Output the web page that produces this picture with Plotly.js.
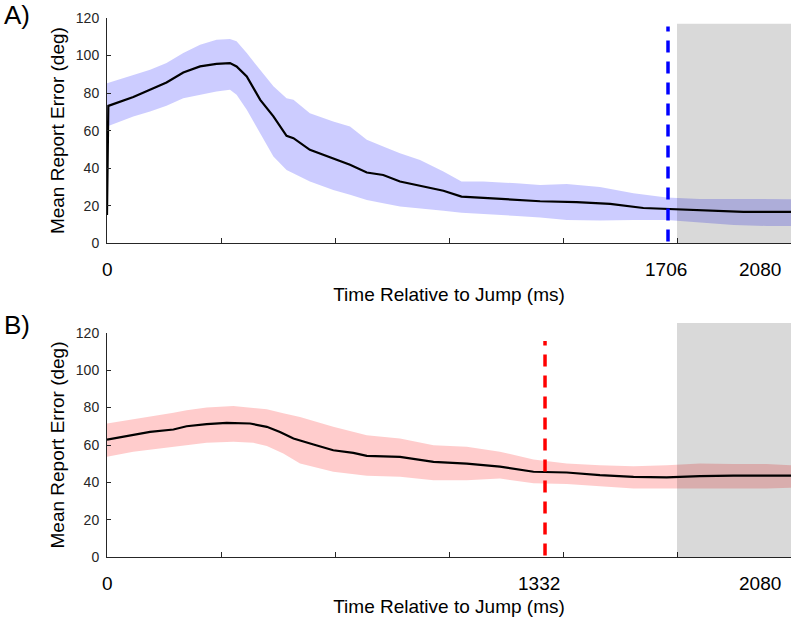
<!DOCTYPE html>
<html>
<head>
<meta charset="utf-8">
<script src="https://cdn.plot.ly/plotly-3.0.1.min.js"></script>
<style>html,body{margin:0;padding:0;background:#fff;}#chart{width:800px;height:622px;}</style>
</head>
<body>
<div id="chart"></div>
<script>
// ---- Panel A data ----
const tMeanA = [0, 4, 80, 131, 181, 232, 283, 333, 374, 394, 425, 466, 506, 546, 567, 617, 688, 739, 790, 840, 891, 952, 1023, 1078, 1144, 1246, 1317, 1428, 1530, 1631, 1702, 1803, 1935, 2080];
const meanA  = [15.1, 73.2, 77.9, 81.8, 85.7, 91.0, 94.2, 95.6, 96.0, 94.2, 88.9, 76.4, 67.6, 57.2, 56.0, 49.8, 45.3, 41.8, 37.7, 36.4, 32.9, 30.6, 28.0, 24.9, 24.2, 23.1, 22.4, 21.9, 21.0, 18.8, 18.3, 17.8, 16.7, 16.7];
const tBandA = [0, 80, 131, 181, 232, 283, 333, 374, 394, 425, 466, 506, 546, 567, 617, 688, 739, 790, 840, 891, 952, 1023, 1078, 1144, 1246, 1317, 1398, 1499, 1601, 1702, 1803, 1905, 2006, 2080];
const upperA = [85.3, 89.8, 92.4, 96.0, 101.3, 105.8, 108.4, 108.8, 107.6, 101.3, 92.4, 83.6, 77.3, 76.4, 69.3, 64.9, 62.2, 55.1, 51.6, 48.0, 44.4, 38.2, 32.9, 32.9, 32.0, 31.1, 31.6, 30.0, 26.7, 24.4, 23.6, 23.5, 23.5, 23.5];
const lowerA = [62.2, 67.6, 70.2, 73.2, 77.3, 79.1, 80.9, 81.8, 79.1, 71.1, 58.7, 46.2, 39.1, 37.3, 32.9, 28.4, 25.8, 23.1, 21.3, 19.6, 18.5, 17.3, 16.3, 15.5, 14.6, 13.8, 12.4, 12.1, 12.4, 12.4, 11.0, 9.8, 9.2, 9.2];
const eventA = 1706;

// ---- Panel B data ----
const tMeanB = [0, 80, 131, 202, 242, 303, 364, 435, 486, 526, 567, 628, 688, 749, 790, 891, 993, 1094, 1195, 1297, 1398, 1499, 1601, 1702, 1803, 1905, 2006, 2080];
const meanB  = [62.9, 65.2, 67.0, 68.3, 70.0, 71.1, 71.8, 71.5, 69.7, 67.0, 63.5, 60.3, 57.2, 55.8, 54.2, 53.7, 51.0, 50.1, 48.4, 45.7, 45.3, 43.9, 43.0, 42.7, 43.4, 43.6, 43.6, 43.6];
const tBandB = [0, 80, 202, 242, 303, 384, 445, 486, 536, 587, 688, 790, 891, 993, 1094, 1195, 1297, 1398, 1499, 1601, 1702, 1803, 1905, 2006, 2080];
const upperB = [71.5, 73.6, 77.2, 78.6, 80.0, 80.9, 80.0, 79.1, 77.0, 75.0, 69.7, 65.2, 63.5, 59.9, 59.0, 56.4, 52.3, 50.1, 49.2, 48.7, 49.2, 50.1, 49.8, 49.8, 49.2];
const lowerB = [53.7, 56.4, 59.0, 59.9, 61.2, 61.7, 61.2, 59.4, 55.5, 50.1, 45.7, 43.6, 43.0, 41.2, 41.2, 42.1, 39.5, 39.1, 38.0, 36.8, 36.4, 36.4, 36.8, 36.8, 37.2];
const eventB = 1332;

// ---- shared ----
const eventLineY = [1, 115.5];
const xMax = 2080;
const xTickVals = [0, 1, 2, 3, 4, 5, 6].map(i => i * xMax / 6);
const yTickVals = [0, 20, 40, 60, 80, 100, 120];
const panelLabels = ['A)', 'B)'];
const xTitle = 'Time Relative to Jump (ms)';
const yTitle = 'Mean Report Error (deg)';

const FONT = 'Liberation Sans, Arial, Helvetica, sans-serif';

function band(t, up, lo, xa, ya, color) {
  return {
    x: t.concat(t.slice().reverse()),
    y: up.concat(lo.slice().reverse()),
    xaxis: xa, yaxis: ya, type: 'scatter', mode: 'lines',
    fill: 'toself', fillcolor: color, line: {width: 0}, hoverinfo: 'skip', showlegend: false
  };
}
function meanLine(t, m, xa, ya) {
  return {x: t, y: m, xaxis: xa, yaxis: ya, type: 'scatter', mode: 'lines',
    line: {color: '#000000', width: 2.2}, showlegend: false};
}
function eventLine(ev, xa, ya, color) {
  return {x: [ev, ev], y: eventLineY, xaxis: xa, yaxis: ya, type: 'scatter', mode: 'lines',
    line: {color: color, width: 3.5, dash: '12px,9px'}, showlegend: false};
}

const data = [
  band(tBandA, upperA, lowerA, 'x', 'y', 'rgba(0,0,255,0.2)'),
  meanLine(tMeanA, meanA, 'x', 'y'),
  eventLine(eventA, 'x', 'y', '#0000ff'),
  band(tBandB, upperB, lowerB, 'x2', 'y2', 'rgba(255,0,0,0.2)'),
  meanLine(tMeanB, meanB, 'x2', 'y2'),
  eventLine(eventB, 'x2', 'y2', '#ff0000')
];

function xaxisDef(anchor, standoff) {
  return {
    anchor: anchor, domain: [107/800, 791/800], range: [0, xMax],
    tickvals: xTickVals, showticklabels: false, ticks: 'inside', ticklen: 5,
    tickcolor: '#262626', showline: true, linecolor: '#262626', linewidth: 1,
    showgrid: false, zeroline: false, fixedrange: true,
    title: {text: xTitle, font: {family: FONT, size: 19, color: '#000'}, standoff: standoff}
  };
}
function yaxisDef(anchor, dom) {
  return {
    anchor: anchor, domain: dom, range: [0, 120], tickvals: yTickVals,
    ticks: 'inside', ticklen: 4, tickcolor: '#262626', ticklabelstandoff: 4,
    tickfont: {family: FONT, size: 14, color: '#262626'},
    showline: true, linecolor: '#262626', linewidth: 1,
    showgrid: false, zeroline: false, fixedrange: true,
    title: {text: yTitle, font: {family: FONT, size: 19, color: '#000'}, standoff: 6}
  };
}

const layout = {
  width: 800, height: 622,
  margin: {l: 0, r: 0, t: 0, b: 0},
  paper_bgcolor: '#ffffff', plot_bgcolor: '#ffffff',
  font: {family: FONT, color: '#000'},
  showlegend: false,
  xaxis: xaxisDef('y', 44),
  yaxis: yaxisDef('x', [1 - 243.3/622, 1 - 18/622]),
  xaxis2: xaxisDef('y2', 42),
  yaxis2: yaxisDef('x2', [1 - 557.3/622, 1 - 332.7/622]),
  shapes: [
    {type: 'rect', xref: 'x domain', yref: 'y domain', x0: 5/6, x1: 1, y0: 0, y1: 0.975,
     fillcolor: 'rgba(0,0,0,0.15)', line: {width: 0}, layer: 'above'},
    {type: 'rect', xref: 'x2 domain', yref: 'y2 domain', x0: 5/6, x1: 1, y0: 0, y1: 1.043,
     fillcolor: 'rgba(0,0,0,0.15)', line: {width: 0}, layer: 'above'}
  ],
  annotations: []
};

const tickFont = {family: FONT, size: 19, color: '#000'};
function xLabel(xref, yref, x, txt, anchor, shift) {
  return {xref: xref, yref: yref, x: x, y: 0, text: txt, showarrow: false,
    xanchor: anchor, yanchor: 'middle', xshift: shift, yshift: -26, font: tickFont};
}
layout.annotations.push(
  xLabel('x', 'y domain', 0, '0', 'center', 0),
  xLabel('x', 'y domain', eventA, String(eventA), 'center', -2),
  xLabel('x', 'y domain', xMax, String(xMax), 'right', -8),
  xLabel('x2', 'y2 domain', 0, '0', 'center', 0),
  xLabel('x2', 'y2 domain', eventB, String(eventB), 'center', -6),
  xLabel('x2', 'y2 domain', xMax, String(xMax), 'right', -8),
  {xref: 'paper', yref: 'paper', x: 0.002, y: 1 - 15/622, text: panelLabels[0], showarrow: false,
   xanchor: 'left', yanchor: 'middle', font: {family: FONT, size: 26, color: '#000'}},
  {xref: 'paper', yref: 'paper', x: 0.002, y: 1 - 325/622, text: panelLabels[1], showarrow: false,
   xanchor: 'left', yanchor: 'middle', font: {family: FONT, size: 26, color: '#000'}}
);

Plotly.newPlot('chart', data, layout, {displayModeBar: false, staticPlot: true});
</script>
</body>
</html>
